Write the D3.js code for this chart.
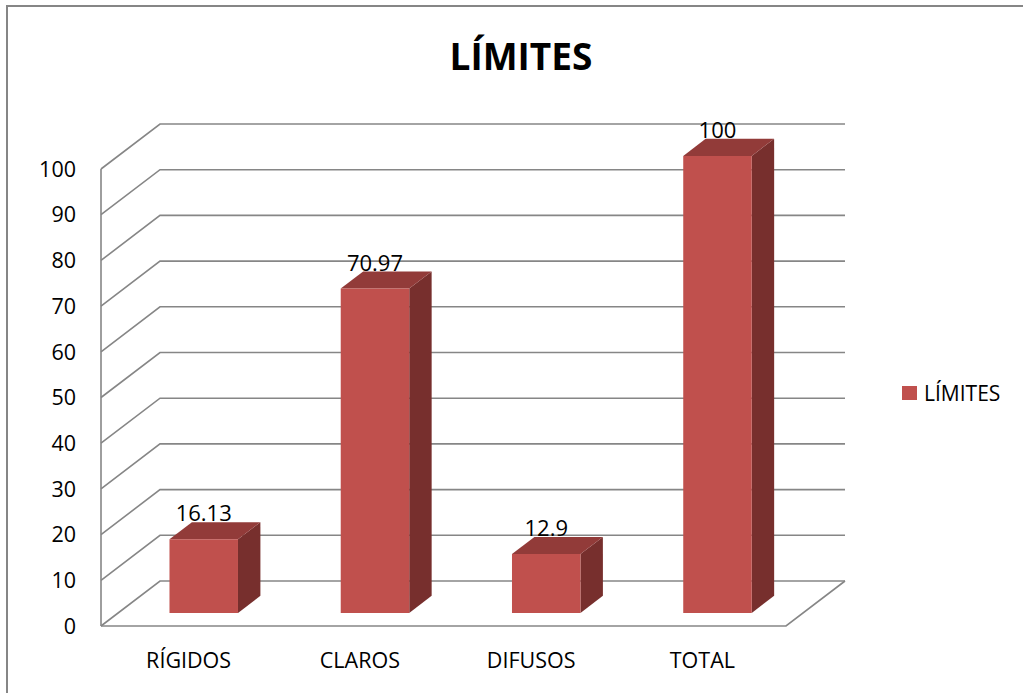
<!DOCTYPE html>
<html>
<head>
<meta charset="utf-8">
<script src="https://cdn.jsdelivr.net/npm/d3@7"></script>
<style>
  html, body { margin: 0; padding: 0; background: #fff; }
  svg { display: block; font-family: "Open Sans", "Noto Sans", sans-serif; }
</style>
</head>
<body>
<svg id="chart" width="1023" height="693"></svg>
<script>
// Chart data
const categories = ["RÍGIDOS", "CLAROS", "DIFUSOS", "TOTAL"];
const values = [16.13, 70.97, 12.9, 100];
const yTicks = [0, 10, 20, 30, 40, 50, 60, 70, 80, 90, 100];
const seriesName = "LÍMITES";
const chartTitle = "LÍMITES";

const svg = d3.select("#chart");

// Outer frame
svg.append("rect")
  .attr("x", 7).attr("y", 6).attr("width", 1030).attr("height", 700)
  .attr("fill", "none").attr("stroke", "#868686").attr("stroke-width", 2);

// Front plane scales
const x = d3.scaleBand().domain(categories).range([101, 786]).paddingInner(0.6).paddingOuter(0.3);
const y = d3.scaleLinear().domain([0, 100]).range([626, 169]);

// Oblique depth projection
const depthX = 59, depthY = 45;
const proj = (px, py, d) => [px + d * depthX, py - d * depthY];

const gridColor = "#868686";
const grid = svg.append("g").attr("fill", "none").attr("stroke", gridColor).attr("stroke-width", 1.6);

// Side wall diagonals and back wall gridlines
yTicks.forEach(t => {
  const a = proj(101, y(t), 0), b = proj(101, y(t), 1), c = proj(786, y(t), 1);
  grid.append("polyline").attr("points", [a, b, c].map(p => p.join(",")).join(" "));
});

// Front vertical axis line
grid.append("line").attr("x1", 101).attr("x2", 101).attr("y1", y(0)).attr("y2", y(100));

// Floor outline
{
  const p0 = proj(101, y(0), 0), p1 = proj(786, y(0), 0), p2 = proj(786, y(0), 1);
  grid.append("polyline").attr("points", [p0, p1, p2].map(p => p.join(",")).join(" "));
}

// Y axis tick labels
svg.append("g").selectAll("text").data(yTicks).join("text")
  .attr("x", 76).attr("y", d => y(d)).attr("dy", "0.36em")
  .attr("text-anchor", "end").attr("font-size", 21.5).attr("fill", "#000")
  .text(d => d);

// Category labels
svg.append("g").selectAll("text").data(categories).join("text")
  .attr("x", d => x(d) + x.bandwidth() / 2 + 2).attr("y", 668)
  .attr("text-anchor", "middle").attr("font-size", 21.5).attr("fill", "#000")
  .text(d => d);

// 3D bars
const d0 = 0.29, d1 = 0.67;
const colFront = "#C0504D", colTop = "#923B39", colSide = "#772F2D";
const bars = svg.append("g");
categories.forEach((c, i) => {
  const v = values[i];
  const xl = x(c), xr = x(c) + x.bandwidth();
  const yb = y(0), yt = y(v);
  const fl = proj(xl, yt, d0), fr = proj(xr, yt, d0), frb = proj(xr, yb, d0), flb = proj(xl, yb, d0);
  const bl = proj(xl, yt, d1), br = proj(xr, yt, d1), brb = proj(xr, yb, d1);
  const pts = a => a.map(p => p.join(",")).join(" ");
  bars.append("polygon").attr("points", pts([fr, br, brb, frb])).attr("fill", colSide);
  bars.append("polygon").attr("points", pts([fl, bl, br, fr])).attr("fill", colTop);
  bars.append("polygon").attr("points", pts([fl, fr, frb, flb])).attr("fill", colFront);
  // Value label
  bars.append("text")
    .attr("x", (fl[0] + fr[0]) / 2).attr("y", bl[1] - 1)
    .attr("text-anchor", "middle").attr("font-size", 22).attr("fill", "#000")
    .text(v);
});

// Title
svg.append("text").attr("x", 521).attr("y", 70)
  .attr("text-anchor", "middle").attr("font-size", 37).attr("font-weight", "bold")
  .attr("fill", "#000").text(chartTitle);

// Legend
const lg = svg.append("g");
lg.append("rect").attr("x", 902).attr("y", 386).attr("width", 15).attr("height", 14).attr("fill", colFront);
lg.append("text").attr("x", 924).attr("y", 393).attr("dy", "0.36em")
  .attr("font-size", 21).attr("fill", "#000").text(seriesName);
</script>
</body>
</html>
